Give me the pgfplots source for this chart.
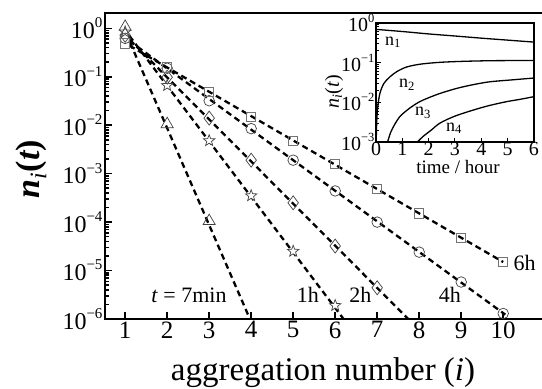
\documentclass[border=0pt]{standalone}
\usepackage{pgfplots}
\pgfplotsset{compat=1.18}
\usepackage{fontspec}
\setmainfont{Liberation Serif}
\usetikzlibrary{plotmarks}
\newcommand\tsup[1]{\raisebox{0.45em}{\fontsize{15}{16}\selectfont #1}}
\newcommand\isup[1]{\raisebox{0.45em}{\fontsize{12.5}{13}\selectfont #1}}
\pgfdeclareplotmark{ostar}{%
  \pgfpathmoveto{\pgfpointpolar{90}{\pgfplotmarksize}}%
  \pgfpathlineto{\pgfpointpolar{126}{0.42\pgfplotmarksize}}%
  \pgfpathlineto{\pgfpointpolar{162}{\pgfplotmarksize}}%
  \pgfpathlineto{\pgfpointpolar{198}{0.42\pgfplotmarksize}}%
  \pgfpathlineto{\pgfpointpolar{234}{\pgfplotmarksize}}%
  \pgfpathlineto{\pgfpointpolar{270}{0.42\pgfplotmarksize}}%
  \pgfpathlineto{\pgfpointpolar{306}{\pgfplotmarksize}}%
  \pgfpathlineto{\pgfpointpolar{342}{0.42\pgfplotmarksize}}%
  \pgfpathlineto{\pgfpointpolar{18}{\pgfplotmarksize}}%
  \pgfpathlineto{\pgfpointpolar{54}{0.42\pgfplotmarksize}}%
  \pgfpathclose
  \pgfusepathqfillstroke}
\begin{document}
\begin{tikzpicture}
\useasboundingbox (0pt,0pt) rectangle (542pt,389pt);
\begin{axis}[
  at={(105pt,70pt)}, anchor=south west,
  scale only axis, width=440.2pt, height=306pt,
  xmin=0.52, xmax=11, ymode=log, ymin=1e-6, ymax=2.07,
  axis line style={line width=2.2pt},
  every tick/.style={line width=1.6pt, black},
  tick align=inside, tick pos=left,
  major tick length=7pt, minor tick length=4pt,
  xtick={1,2,3,4,5,6,7,8,9,10},
  xticklabels={1,2,3,4,5,6,7,8,9,10},
  ytick={1e-6,1e-5,1e-4,1e-3,1e-2,1e-1,1},
  yticklabels={10\tsup{−6},10\tsup{−5},10\tsup{−4},10\tsup{−3},10\tsup{−2},10\tsup{−1},10\tsup{0}},
  xticklabel style={font=\fontsize{25}{27}\selectfont, yshift=1pt},
  yticklabel style={font=\fontsize{24}{26}\selectfont, xshift=1pt},
  clip=false,
]
% dashed fit lines
\addplot[black, line width=2.3pt, dash pattern=on 6pt off 4pt] coordinates {(1.12,0.5) (3.97,1e-6)};
\addplot[black, line width=2.3pt, dash pattern=on 6pt off 4pt] coordinates {(1.1,0.7) (6.2,1e-6)};
\addplot[black, line width=2.3pt, dash pattern=on 6pt off 4pt] coordinates {(1.1,0.59) (7.74,1e-6)};
\addplot[black, line width=2.3pt, dash pattern=on 6pt off 4pt] coordinates {(1.1,0.55) (10.05,1.23e-6)};
\addplot[black, line width=2.3pt, dash pattern=on 6pt off 4pt] coordinates {(1.1,0.44) (10.0,1.5e-5)};
% markers
\addplot[only marks, mark=triangle, mark size=7pt, mark options={solid, black!75, line width=0.7pt, fill=white}]
  coordinates {(1,1.07) (2,0.0105) (3,1.05e-4)};
\addplot[only marks, mark=ostar, mark size=6pt, mark options={solid, black!75, line width=0.7pt, fill=white}]
  coordinates {(1,0.84) (2,0.066) (3,0.0048) (4,3.5e-4) (5,2.5e-5) (6,1.9e-6)};
\addplot[only marks, mark=diamond, mark size=7pt, mark options={solid, black!75, line width=0.7pt, fill=white}]
  coordinates {(1,0.72) (2,0.098) (3,0.014) (4,0.0019) (5,2.5e-4) (6,3.2e-5) (7,4.4e-6)};
\addplot[only marks, mark=o, mark size=5.3pt, mark options={solid, black!75, line width=0.7pt, fill=white}]
  coordinates {(1,0.62) (2,0.15) (3,0.032) (4,0.0085) (5,0.0019) (6,4.4e-4) (7,1.0e-4) (8,2.4e-5) (9,5.8e-6) (10,1.3e-6)};
\addplot[only marks, mark=square, mark size=4.7pt, mark options={solid, black!55, line width=0.9pt, fill=white}]
  coordinates {(1,0.49) (2,0.155) (3,0.048) (4,0.015) (5,0.0048) (6,0.0016) (7,4.9e-4) (8,1.5e-4) (9,4.7e-5) (10,1.5e-5)};
% annotations
\node[font=\fontsize{22}{24}\selectfont] at (axis cs:2.52,3.1e-6) {\textit{t} = 7min};
\node[font=\fontsize{22}{24}\selectfont] at (axis cs:5.35,3.1e-6) {1h};
\node[font=\fontsize{22}{24}\selectfont] at (axis cs:6.6,3.1e-6) {2h};
\node[font=\fontsize{22}{24}\selectfont] at (axis cs:8.73,3.1e-6) {4h};
\node[font=\fontsize{22}{24}\selectfont] at (axis cs:10.51,1.45e-5) {6h};
\end{axis}
% axis labels
\node[font=\fontsize{33}{36}\selectfont, anchor=base] at (323pt,8pt) {aggregation number (\textit{i})};
\node[font=\fontsize{34}{38}\selectfont, rotate=90] at (31pt,220pt) {{\bfseries\itshape n}\textsubscript{\itshape i}{\bfseries(\itshape t\upshape)}};
% inset
\begin{axis}[
  at={(376pt,247pt)}, anchor=south west,
  scale only axis, width=158pt, height=119pt,
  xmin=0, xmax=6, ymode=log, ymin=1e-3, ymax=1,
  axis background/.style={fill=white},
  axis line style={line width=1.4pt},
  every tick/.style={line width=1pt, black},
  tick align=inside, tick pos=left,
  major tick length=4.5pt, minor tick length=2.5pt,
  xtick={0,1,2,3,4,5,6},
  xticklabels={0,1,2,3,4,5,6},
  ytick={1e-3,1e-2,1e-1,1},
  yticklabels={10\isup{−3},10\isup{−2},10\isup{−1},10\isup{0}},
  ticklabel style={font=\fontsize{20}{22}\selectfont},
  xticklabel style={yshift=3pt},
  yticklabel style={xshift=2pt},
]
\addplot[black, line width=1.3pt, smooth] coordinates {(0,0.69) (1,0.61) (2,0.53) (3,0.47) (4,0.415) (5,0.37) (6,0.33)};
\addplot[black, line width=1.3pt, smooth] coordinates {(0.01,0.0012) (0.03,0.0035) (0.07,0.008) (0.15,0.017) (0.3,0.03) (0.53,0.044) (0.8,0.06) (1.17,0.078) (1.7,0.092) (2.43,0.102) (3.3,0.108) (4.33,0.112) (5.2,0.113) (6,0.114)};
\addplot[black, line width=1.3pt, smooth] coordinates {(0.44,0.001) (0.55,0.0017) (0.7,0.0027) (0.91,0.0044) (1.2,0.0065) (1.5,0.009) (1.8,0.0115) (2.4,0.0165) (3.07,0.0225) (3.7,0.028) (4.33,0.033) (5.2,0.037) (6,0.041)};
\addplot[black, line width=1.3pt, smooth] coordinates {(1.57,0.001) (1.8,0.0014) (2.1,0.002) (2.43,0.003) (3.0,0.0045) (3.7,0.0064) (4.3,0.0083) (4.96,0.0104) (5.5,0.012) (6,0.0139)};
\node[font=\fontsize{18}{20}\selectfont] at (axis cs:0.65,0.33) {n\textsubscript{1}};
\node[font=\fontsize{18}{20}\selectfont] at (axis cs:1.18,0.0275) {n\textsubscript{2}};
\node[font=\fontsize{18}{20}\selectfont] at (axis cs:1.79,0.0054) {n\textsubscript{3}};
\node[font=\fontsize{18}{20}\selectfont] at (axis cs:2.96,0.0022) {n\textsubscript{4}};
\end{axis}
\node[font=\fontsize{19}{21}\selectfont, anchor=base] at (458pt,215pt) {time / hour};
\node[font=\fontsize{20}{22}\selectfont, rotate=90] at (334pt,297pt) {\textit{n}\textsubscript{\textit{i}}(\textit{t})};
\end{tikzpicture}
\end{document}
